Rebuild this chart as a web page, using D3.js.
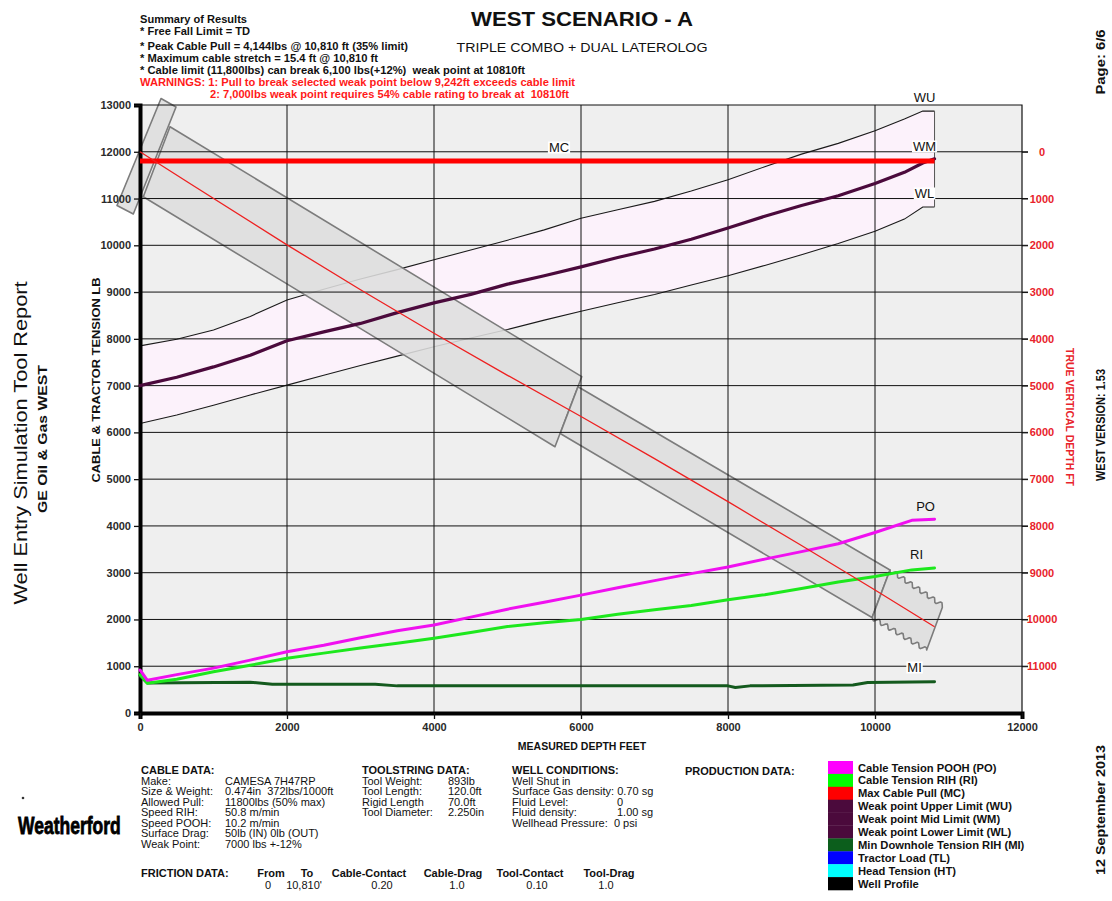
<!DOCTYPE html>
<html>
<head>
<meta charset="utf-8">
<script src="https://cdn.jsdelivr.net/npm/d3@7"></script>
<style>
  body { margin: 0; background: #fff; }
  svg { display: block; }
  text { font-family: "Liberation Sans", Arial, Helvetica, sans-serif; white-space: pre; }
</style>
</head>
<body>
<svg id="chart" width="1112" height="901"></svg>
<script>
// ---- data -------------------------------------------------------------
// Weak point envelope (measured depth ft -> tension lb)
const weakMd = [0, 500, 1000, 1500, 2000, 2500, 3000, 3500, 4000, 4500, 5000, 5500, 6000, 6500, 7000, 7500, 8000, 8500, 9000, 9500, 10000, 10400, 10650, 10810];
const weakMid = [7000, 7180, 7400, 7650, 7960, 8150, 8330, 8560, 8770, 8950, 9170, 9350, 9540, 9740, 9920, 10130, 10370, 10620, 10850, 11060, 11320, 11560, 11760, 11850];
const weakUpper = [7850, 7990, 8190, 8480, 8830, 9060, 9280, 9480, 9690, 9900, 10110, 10330, 10580, 10760, 10940, 11160, 11400, 11680, 11950, 12180, 12450, 12700, 12870, 12870];
const weakLower = [6190, 6370, 6580, 6800, 7010, 7220, 7430, 7630, 7830, 8020, 8200, 8400, 8590, 8770, 8950, 9150, 9350, 9570, 9800, 10040, 10300, 10560, 10820, 10820];

// Cable tension curves
const tensionMd = [0, 100, 500, 1000, 1500, 2000, 2500, 3000, 3500, 4000, 4500, 5000, 5500, 6000, 6500, 7000, 7500, 8000, 8500, 9000, 9500, 10000, 10500, 10810];
const tensionPOOH = [920, 700, 820, 960, 1130, 1310, 1450, 1610, 1760, 1880, 2050, 2220, 2370, 2520, 2680, 2830, 2980, 3120, 3290, 3450, 3620, 3860, 4120, 4144];
const tensionRIH = [820, 635, 720, 880, 1020, 1170, 1280, 1390, 1490, 1600, 1720, 1850, 1930, 2000, 2110, 2210, 2300, 2420, 2530, 2660, 2800, 2920, 3060, 3100];

const minDownholeMd = [0, 100, 1500, 1800, 3200, 3500, 8000, 8100, 8300, 9700, 9900, 10810];
const minDownhole = [800, 640, 660, 615, 615, 580, 580, 545, 580, 600, 650, 670];

const maxCablePull = 11800;
const totalDepth = 10810;

// Well profile: measured depth vs true vertical depth
const profileMd = [0, 700, 2000, 3000, 4000, 5000, 6000, 7000, 8000, 9000, 10000, 10810];
const profileTvd = [0, 700, 1990, 2950, 3880, 4780, 5660, 6560, 7480, 8420, 9370, 10156];

// Trajectory sections along the profile, corners as [md ft, lb]
const sectionSurface = [[286, 13139], [490, 12957], [-91, 10669], [-313, 10851]];
const sectionUpper = [[408, 12536], [6010, 7191], [5646, 5694], [45, 11039]];
const sectionLower = [[5959, 6977], [10204, 3058], [9959, 2042], [5717, 5976]];
const sectionTool = [[10204, 3058], [10929, 2288], [10703, 1347], [9959, 2042]];

const tensionTicks = d3.range(0, 13001, 1000);
const depthTicks = d3.range(0, 12001, 2000);
const tvdTicks = d3.range(0, 11001, 1000);

const summaryLines = [
  "Summary of Results",
  "* Free Fall Limit = TD",
  "* Peak Cable Pull = 4,144lbs @ 10,810 ft (35% limit)",
  "* Maximum cable stretch = 15.4 ft @ 10,810 ft",
  "* Cable limit (11,800lbs) can break 6,100 lbs(+12%)  weak point at 10810ft"
];
const warningLines = [
  "WARNINGS: 1: Pull to break selected weak point below 9,242ft exceeds cable limit",
  "2: 7,000lbs weak point requires 54% cable rating to break at  10810ft"
];

const cableLabels = ["Make:", "Size & Weight:", "Allowed Pull:", "Speed RIH:", "Speed POOH:", "Surface Drag:", "Weak Point:"];
const cableValues = ["CAMESA 7H47RP", "0.474in  372lbs/1000ft", "11800lbs (50% max)", "50.8 m/min", "10.2 m/min", "50lb (IN) 0lb (OUT)", "7000 lbs +-12%"];
const toolLabels = ["Tool Weight:", "Tool Length:", "Rigid Length", "Tool Diameter:"];
const toolValues = ["893lb", "120.0ft", "70.0ft", "2.250in"];
const wellLines = ["Well Shut in", "Surface Gas density: 0.70 sg", "Fluid Level:", "Fluid density:", "Wellhead Pressure:  0 psi"];
const wellValues = ["", "", "0", "1.00 sg", ""];
const frictionHeaders = ["From", "To", "Cable-Contact", "Cable-Drag", "Tool-Contact", "Tool-Drag"];
const frictionValues = ["0", "10,810'", "0.20", "1.0", "0.10", "1.0"];

const legendNames = ["Cable Tension POOH (PO)", "Cable Tension RIH (RI)", "Max Cable Pull (MC)", "Weak point Upper Limit (WU)", "Weak point Mid Limit (WM)", "Weak point Lower Limit (WL)", "Min Downhole Tension RIH (MI)", "Tractor Load (TL)", "Head Tension (HT)", "Well Profile"];
const legendColors = ["#ff00ff", "#00ff00", "#ff0000", "#4b0a3c", "#4b0a3c", "#4b0a3c", "#0c5e1c", "#0000ff", "#00ffff", "#000000"];

// ---- layout -----------------------------------------------------------
const svg = d3.select("#chart");
const plot = { left: 140, right: 1022, top: 105, bottom: 713 };

const x = d3.scaleLinear().domain([0, 12000]).range([plot.left, plot.right]);
const y = d3.scaleLinear().domain([0, 13000]).range([plot.bottom, plot.top]);
// true vertical depth runs downward, zero aligned with the 12000 lb line
const tvd = d3.scaleLinear().domain([0, 12000]).range([y(12000), y(0)]);

svg.append("rect").attr("width", 1112).attr("height", 901).attr("fill", "#fff");

// plot background
svg.append("rect")
  .attr("x", plot.left).attr("y", plot.top)
  .attr("width", plot.right - plot.left).attr("height", plot.bottom - plot.top)
  .attr("fill", "#efefef");

// weak point band
const band = weakMd.map((m, i) => ({ m, hi: weakUpper[i], lo: weakLower[i], mid: weakMid[i] }));
svg.append("path")
  .datum(band)
  .attr("fill", "#fcf2fb")
  .attr("d", d3.area().x(d => x(d.m)).y0(d => y(d.lo)).y1(d => y(d.hi)));

const thinLine = d3.line().x(d => x(d[0])).y(d => y(d[1]));
svg.append("path").datum(weakMd.map((m, i) => [m, weakUpper[i]]))
  .attr("fill", "none").attr("stroke", "#1a1a1a").attr("stroke-width", 1.1).attr("d", thinLine);
svg.append("path").datum(weakMd.map((m, i) => [m, weakLower[i]]))
  .attr("fill", "none").attr("stroke", "#1a1a1a").attr("stroke-width", 1.1).attr("d", thinLine);
svg.append("line")
  .attr("x1", x(totalDepth)).attr("x2", x(totalDepth))
  .attr("y1", y(weakUpper[weakUpper.length - 1])).attr("y2", y(weakLower[weakLower.length - 1]))
  .attr("stroke", "#555").attr("stroke-width", 1);

// trajectory sections
const sectionStyle = sel => sel.attr("fill", "#dedede").attr("fill-opacity", 0.88)
  .attr("stroke", "#7c7c7c").attr("stroke-width", 1.6).attr("stroke-linejoin", "round");
const polyPath = pts => "M" + pts.map(p => [x(p[0]), y(p[1])].join(",")).join("L") + "Z";
[sectionSurface, sectionUpper, sectionLower].forEach(s => {
  svg.append("path").attr("d", polyPath(s)).call(sectionStyle);
});

// toolstring with scalloped long edges
function scallop(a, b, period, amp) {
  const dx = b[0] - a[0], dy = b[1] - a[1];
  const len = Math.hypot(dx, dy);
  const nx = -dy / len, ny = dx / len;
  const n = Math.max(2, Math.round(len / 1.5));
  const pts = [];
  for (let i = 0; i <= n; i++) {
    const t = i / n;
    const off = amp * Math.sin(2 * Math.PI * t * len / period);
    pts.push([a[0] + dx * t + nx * off, a[1] + dy * t + ny * off]);
  }
  return pts;
}
{
  const c = sectionTool.map(p => [x(p[0]), y(p[1])]);
  const pts = [].concat(scallop(c[0], c[1], 9, 2.2), scallop(c[2], c[3], 9, 2.2));
  svg.append("path").attr("d", "M" + pts.map(p => p.join(",")).join("L") + "Z").call(sectionStyle);
}

// grid
const grid = svg.append("g").attr("stroke", "#111").attr("stroke-width", 1);
grid.selectAll("line.h").data(tensionTicks.filter(t => t > 0 && t < 13000)).join("line")
  .attr("x1", plot.left).attr("x2", plot.right + 6)
  .attr("y1", d => y(d)).attr("y2", d => y(d));
grid.selectAll("line.v").data(depthTicks.filter(t => t > 0 && t < 12000)).join("line")
  .attr("y1", plot.top).attr("y2", plot.bottom)
  .attr("x1", d => x(d)).attr("x2", d => x(d));
// frame
svg.append("path")
  .attr("d", `M${plot.left},${plot.top}H${plot.right}V${plot.bottom}`)
  .attr("fill", "none").attr("stroke", "#111").attr("stroke-width", 1.2);

// axes
const axisLeft = svg.append("g").attr("transform", `translate(${plot.left},0)`)
  .call(d3.axisLeft(y).tickValues(tensionTicks).tickSize(6).tickPadding(3).tickFormat(d3.format("d")));
const axisBottom = svg.append("g").attr("transform", `translate(0,${plot.bottom})`)
  .call(d3.axisBottom(x).tickValues(depthTicks).tickSize(6).tickPadding(4).tickFormat(d3.format("d")));
const axisRight = svg.append("g").attr("transform", `translate(${plot.right},0)`)
  .call(d3.axisRight(tvd).tickValues(tvdTicks).tickSize(6).tickPadding(4).tickFormat(d3.format("d")));

[axisLeft, axisBottom].forEach(g => {
  g.select(".domain").attr("stroke", "#000").attr("stroke-width", 4);
  g.selectAll(".tick line").attr("stroke", "#111").attr("stroke-width", 1.3);
  g.selectAll("text").attr("fill", "#2a2a2a").attr("font-size", 11).attr("font-weight", "bold")
    .style("font-family", "'Liberation Sans', Arial, sans-serif");
});
axisRight.select(".domain").remove();
axisRight.selectAll(".tick line").attr("stroke", "#111").attr("stroke-width", 1);
axisRight.selectAll("text").attr("fill", "#e8232b").attr("font-size", 11).attr("font-weight", "bold")
  .attr("text-anchor", "middle").attr("x", 20)
  .style("font-family", "'Liberation Sans', Arial, sans-serif");

// series
const seriesLine = d3.line().x(d => x(d[0])).y(d => y(d[1]));
function drawSeries(mdArr, vals, color, width) {
  svg.append("path").datum(mdArr.map((m, i) => [m, vals[i]]))
    .attr("fill", "none").attr("stroke", color).attr("stroke-width", width)
    .attr("stroke-linejoin", "round").attr("stroke-linecap", "round").attr("d", seriesLine);
}
drawSeries(weakMd, weakMid, "#4b0a3c", 3.2);
drawSeries(minDownholeMd, minDownhole, "#145a1e", 3);
drawSeries(tensionMd, tensionRIH, "#1de81d", 3);
drawSeries(tensionMd, tensionPOOH, "#f010f0", 3);

// maximum cable pull
svg.append("line")
  .attr("x1", x(0)).attr("x2", x(totalDepth))
  .attr("y1", y(maxCablePull)).attr("y2", y(maxCablePull))
  .attr("stroke", "#ff0000").attr("stroke-width", 5);

// well profile
svg.append("path").datum(profileMd.map((m, i) => [m, profileTvd[i]]))
  .attr("fill", "none").attr("stroke", "#ee2020").attr("stroke-width", 1.3)
  .attr("d", d3.line().x(d => x(d[0])).y(d => tvd(d[1])));

// curve tags
function tag(txt, cx, cy, boxed) {
  const g = svg.append("g");
  const t = g.append("text").attr("x", cx).attr("y", cy + 5).attr("text-anchor", "middle")
    .attr("font-size", 13).attr("fill", "#111").text(txt);
  if (boxed) {
    const b = t.node().getBBox();
    g.insert("rect", "text").attr("x", b.x - 1).attr("y", b.y + 1.5).attr("width", b.width + 2)
      .attr("height", b.height - 3).attr("fill", "#fff");
  }
}
tag("WU", x(totalDepth) - 10, 97, true);
tag("WM", x(totalDepth) - 10, 146, true);
tag("WL", x(totalDepth) - 10, 193, true);
tag("MC", 559, 147, true);
tag("PO", x(totalDepth) - 9, 506, false);
tag("RI", x(totalDepth) - 18, 554, false);
tag("MI", x(totalDepth) - 20, 667, true);

// axis titles
svg.append("text").attr("x", 582).attr("y", 750).attr("text-anchor", "middle")
  .attr("font-size", 10.5).attr("font-weight", "bold").attr("fill", "#111").text("MEASURED DEPTH FEET");
svg.append("text").attr("transform", "translate(100,380) rotate(-90)").attr("text-anchor", "middle")
  .attr("font-size", 10.5).attr("font-weight", "bold").attr("fill", "#111")
  .attr("textLength", 205).attr("lengthAdjust", "spacingAndGlyphs").text("CABLE & TRACTOR TENSION LB");
svg.append("text").attr("transform", "translate(1066,417) rotate(90)").attr("text-anchor", "middle")
  .attr("font-size", 10).attr("font-weight", "bold").attr("fill", "#e8232b")
  .attr("textLength", 138).attr("lengthAdjust", "spacingAndGlyphs").text("TRUE VERTICAL DEPTH FT");

// page margins
svg.append("text").attr("transform", "translate(27,443) rotate(-90)").attr("text-anchor", "middle")
  .attr("font-size", 18).attr("fill", "#111")
  .attr("textLength", 323).attr("lengthAdjust", "spacingAndGlyphs").text("Well Entry Simulation Tool Report");
svg.append("text").attr("transform", "translate(47,439) rotate(-90)").attr("text-anchor", "middle")
  .attr("font-size", 13).attr("font-weight", "bold").attr("fill", "#111")
  .attr("textLength", 148).attr("lengthAdjust", "spacingAndGlyphs").text("GE Oil & Gas WEST");
svg.append("text").attr("transform", "translate(1105,62) rotate(-90)").attr("text-anchor", "middle")
  .attr("font-size", 12.5).attr("font-weight", "bold").attr("fill", "#111")
  .attr("textLength", 65).attr("lengthAdjust", "spacingAndGlyphs").text("Page: 6/6");
svg.append("text").attr("transform", "translate(1105,425) rotate(-90)").attr("text-anchor", "middle")
  .attr("font-size", 12.5).attr("font-weight", "bold").attr("fill", "#111")
  .attr("textLength", 112).attr("lengthAdjust", "spacingAndGlyphs").text("WEST VERSION: 1.53");
svg.append("text").attr("transform", "translate(1105,810) rotate(-90)").attr("text-anchor", "middle")
  .attr("font-size", 13).attr("font-weight", "bold").attr("fill", "#111")
  .attr("textLength", 130).attr("lengthAdjust", "spacingAndGlyphs").text("12 September 2013");

// titles
svg.append("text").attr("x", 582).attr("y", 26).attr("text-anchor", "middle")
  .attr("font-size", 21).attr("font-weight", "bold").attr("fill", "#111")
  .attr("textLength", 222).attr("lengthAdjust", "spacingAndGlyphs").text("WEST SCENARIO - A");
svg.append("text").attr("x", 582).attr("y", 52).attr("text-anchor", "middle")
  .attr("font-size", 12.5).attr("fill", "#111")
  .attr("textLength", 251).attr("lengthAdjust", "spacingAndGlyphs").text("TRIPLE COMBO + DUAL LATEROLOG");

// summary block
const summaryY = [22.5, 34.5, 49.5, 61.5, 73.5];
const summaryW = [107, 110, 268, 238, 385];
summaryLines.forEach((s, i) => {
  svg.append("text").attr("x", 140).attr("y", summaryY[i])
    .attr("font-size", 11.5).attr("font-weight", "bold").attr("fill", "#111")
    .attr("textLength", summaryW[i]).attr("lengthAdjust", "spacingAndGlyphs").text(s);
});
svg.append("text").attr("x", 140).attr("y", 86)
  .attr("font-size", 11.5).attr("font-weight", "bold").attr("fill", "#ff1a1a")
  .attr("textLength", 435).attr("lengthAdjust", "spacingAndGlyphs").text(warningLines[0]);
svg.append("text").attr("x", 210).attr("y", 98)
  .attr("font-size", 11.5).attr("font-weight", "bold").attr("fill", "#ff1a1a")
  .attr("textLength", 359).attr("lengthAdjust", "spacingAndGlyphs").text(warningLines[1]);

// data blocks under the chart
const info = svg.append("g").attr("fill", "#111").attr("font-size", 11);
const rowY = i => 784.5 + i * 10.5;
info.append("text").attr("x", 141).attr("y", 774).attr("font-weight", "bold").text("CABLE DATA:");
cableLabels.forEach((s, i) => info.append("text").attr("x", 141).attr("y", rowY(i)).text(s));
cableValues.forEach((s, i) => info.append("text").attr("x", 225).attr("y", rowY(i)).text(s));
info.append("text").attr("x", 362).attr("y", 774).attr("font-weight", "bold").text("TOOLSTRING DATA:");
toolLabels.forEach((s, i) => info.append("text").attr("x", 362).attr("y", rowY(i)).text(s));
toolValues.forEach((s, i) => info.append("text").attr("x", 448).attr("y", rowY(i)).text(s));
info.append("text").attr("x", 512).attr("y", 774).attr("font-weight", "bold").text("WELL CONDITIONS:");
wellLines.forEach((s, i) => info.append("text").attr("x", 512).attr("y", rowY(i)).text(s));
wellValues.forEach((s, i) => { if (s) info.append("text").attr("x", 617).attr("y", rowY(i)).text(s); });

info.append("text").attr("x", 141).attr("y", 877).attr("font-weight", "bold").text("FRICTION DATA:");
const frictionX = [271, 307, 369, 453, 530, 609];
const frictionValX = [268, 304, 382, 457, 537, 606];
frictionHeaders.forEach((s, i) => info.append("text").attr("x", frictionX[i]).attr("y", 877)
  .attr("text-anchor", "middle").attr("font-weight", "bold").text(s));
frictionValues.forEach((s, i) => info.append("text").attr("x", frictionValX[i]).attr("y", 889)
  .attr("text-anchor", "middle").text(s));

// legend
info.append("text").attr("x", 685).attr("y", 775).attr("font-weight", "bold").text("PRODUCTION DATA:");
const legRow = 12.9, legTop = 761;
const leg = svg.append("g");
legendNames.forEach((name, i) => {
  leg.append("rect").attr("x", 828).attr("y", legTop + i * legRow).attr("width", 25).attr("height", legRow + 0.3)
    .attr("fill", legendColors[i]);
  leg.append("text").attr("x", 858).attr("y", legTop + i * legRow + 10.5)
    .attr("font-size", 11.2).attr("font-weight", "bold").attr("fill", "#111").text(name);
});

// company mark: bold wordmark, stretched vertically
svg.append("text").attr("transform", "translate(18,834) scale(1,1.38)")
  .attr("font-size", 17.5).attr("font-weight", "bold").attr("fill", "#000")
  .attr("stroke", "#000").attr("stroke-width", 0.6)
  .text("Weatherford");
svg.append("circle").attr("cx", 23).attr("cy", 798).attr("r", 1.3).attr("fill", "#333");
</script>
</body>
</html>
